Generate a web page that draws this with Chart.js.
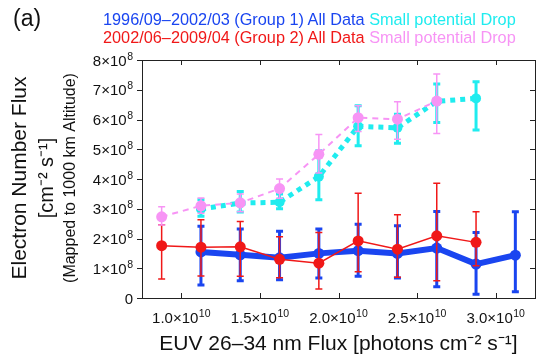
<!DOCTYPE html>
<html>
<head>
<meta charset="utf-8">
<script src="https://cdn.jsdelivr.net/npm/chart.js@4.4.1/dist/chart.umd.min.js"></script>
<style>
  html, body { margin: 0; padding: 0; background: #fff; }
  #wrap { position: relative; width: 542px; height: 360px; font-family: "Liberation Sans", Arial, sans-serif; }
  #wrap canvas { position: absolute; left: 0; top: 0; }
  .txt { position: absolute; white-space: nowrap; line-height: 1; font-size: 16.3px; }
</style>
</head>
<body>
<div id="wrap">
  <canvas id="fluxChart" width="542" height="360"></canvas>
  <div class="txt" style="left:13px;top:7px;font-size:23px;color:#111">(a)</div>
  <div class="txt" style="left:103px;top:11px"><span style="color:#1a45f0">1996/09–2002/03 (Group 1) All Data</span> <span style="color:#1fecef">Small potential Drop</span></div>
  <div class="txt" style="left:103px;top:29px"><span style="color:#f01818">2002/06–2009/04 (Group 2) All Data</span> <span style="color:#f794f5">Small potential Drop</span></div>
</div>
<script>
(function () {
  "use strict";

  // x values: EUV 26-34 nm flux bin centres [photons cm^-2 s^-1]
  var xGroup1 = [1.125e10, 1.375e10, 1.625e10, 1.875e10, 2.125e10, 2.375e10, 2.625e10, 2.875e10, 3.125e10];
  var xGroup2 = [0.875e10, 1.125e10, 1.375e10, 1.625e10, 1.875e10, 2.125e10, 2.375e10, 2.625e10, 2.875e10];
  var xSmall1 = [1.125e10, 1.375e10, 1.625e10, 1.875e10, 2.125e10, 2.375e10, 2.625e10, 2.875e10];
  var xSmall2 = [0.875e10, 1.125e10, 1.375e10, 1.625e10, 1.875e10, 2.125e10, 2.375e10, 2.625e10];

  // electron number flux, units of 1e8 cm^-2 s^-1
  var allData1 = [1.55, 1.45, 1.35, 1.50, 1.59, 1.50, 1.68, 1.14, 1.44];
  var allData1Lo = [0.44, 0.58, 0.61, 0.67, 0.73, 0.67, 0.38, 0.13, 0.21];
  var allData1Hi = [2.41, 2.32, 2.24, 2.32, 2.48, 2.43, 2.91, 2.20, 2.90];

  var allData2 = [1.76, 1.71, 1.72, 1.30, 1.17, 1.92, 1.64, 2.09, 1.87];
  var allData2Lo = [0.64, 0.74, 0.73, 0.68, 0.30, 0.88, 0.70, 0.58, 1.08];
  var allData2Hi = [2.46, 2.63, 2.57, 2.06, 2.20, 3.52, 2.80, 3.86, 2.90];

  var small1 = [2.99, 3.19, 3.22, 4.08, 5.77, 5.72, 6.61, 6.71];
  var small1Lo = [2.75, 2.89, 3.00, 3.30, 5.12, 5.20, 5.90, 5.65];
  var small1Hi = [3.30, 3.58, 3.50, 4.95, 6.46, 6.18, 7.19, 7.27];

  var small2 = [2.73, 3.10, 3.20, 3.68, 4.83, 6.06, 6.01, 6.62];
  var small2Lo = [2.45, 2.85, 2.90, 3.35, 4.20, 5.60, 5.34, 5.53];
  var small2Hi = [3.07, 3.36, 3.50, 4.00, 5.50, 6.46, 6.60, 7.53];

  // tick labels: mantissa part and superscript exponent
  var xTicks = [1.0e10, 1.5e10, 2.0e10, 2.5e10, 3.0e10];
  var xTickBase = ["1.0×10", "1.5×10", "2.0×10", "2.5×10", "3.0×10"];
  var xTickExp = ["10", "10", "10", "10", "10"];
  var yTicks = [0, 1e8, 2e8, 3e8, 4e8, 5e8, 6e8, 7e8, 8e8];
  var yTickBase = ["0", "1×10", "2×10", "3×10", "4×10", "5×10", "6×10", "7×10", "8×10"];
  var yTickExp = ["", "8", "8", "8", "8", "8", "8", "8", "8"];

  var FONT = '"Liberation Sans", Arial, sans-serif';
  var BLUE = "#1a45f0";
  var RED = "#f01818";
  var CYAN = "#1fecef";
  var PINK = "#f794f5";
  var INK = "#111";

  function points(xs, ys) {
    return xs.map(function (x, i) {
      return { x: x, y: ys[i] * 1e8 };
    });
  }

  function scaled(arr) {
    return arr.map(function (v) { return v * 1e8; });
  }

  var errorBars = {
    id: "errorBars",
    beforeDatasetDraw: function (chart, args) {
      var ds = chart.data.datasets[args.index];
      if (!ds.errLo) return;
      var ctx = chart.ctx;
      var xs = chart.scales.x;
      var ys = chart.scales.y;
      ctx.save();
      ctx.strokeStyle = ds.borderColor;
      ctx.lineWidth = ds.errWidth;
      ds.data.forEach(function (p, i) {
        var px = xs.getPixelForValue(p.x);
        var lo = ys.getPixelForValue(ds.errLo[i]);
        var hi = ys.getPixelForValue(ds.errHi[i]);
        var c = ds.capHalf;
        ctx.beginPath();
        ctx.moveTo(px, lo);
        ctx.lineTo(px, hi);
        ctx.moveTo(px - c, lo);
        ctx.lineTo(px + c, lo);
        ctx.moveTo(px - c, hi);
        ctx.lineTo(px + c, hi);
        ctx.stroke();
      });
      ctx.restore();
    }
  };

  // draws "base" with a raised exponent; align is "center" or "right"
  function powerLabel(ctx, base, exp, x, y, supDy, align) {
    ctx.font = "15px " + FONT;
    var wb = ctx.measureText(base).width;
    ctx.font = "10.5px " + FONT;
    var we = exp ? ctx.measureText(exp).width + 0.5 : 0;
    var left = align === "right" ? x - wb - we : x - (wb + we) / 2;
    ctx.textAlign = "left";
    ctx.textBaseline = "alphabetic";
    ctx.font = "15px " + FONT;
    ctx.fillText(base, left, y);
    if (exp) {
      ctx.font = "10.5px " + FONT;
      ctx.fillText(exp, left + wb + 0.5, y + supDy);
    }
  }

  var frame = {
    id: "frame",
    afterDraw: function (chart) {
      var a = chart.chartArea;
      var ctx = chart.ctx;
      var sx = chart.scales.x;
      var sy = chart.scales.y;
      var tl = 5;
      ctx.save();
      ctx.strokeStyle = "#222";
      ctx.lineWidth = 1;
      ctx.strokeRect(Math.round(a.left) + 0.5, Math.round(a.top) + 0.5,
        Math.round(a.right - a.left), Math.round(a.bottom - a.top));
      ctx.beginPath();
      sx.ticks.forEach(function (t) {
        var px = Math.round(sx.getPixelForValue(t.value)) + 0.5;
        ctx.moveTo(px, a.bottom);
        ctx.lineTo(px, a.bottom - tl);
        ctx.moveTo(px, a.top);
        ctx.lineTo(px, a.top + tl);
      });
      sy.ticks.forEach(function (t) {
        var py = Math.round(sy.getPixelForValue(t.value)) + 0.5;
        ctx.moveTo(a.left, py);
        ctx.lineTo(a.left - tl, py);
        ctx.moveTo(a.right, py);
        ctx.lineTo(a.right - tl, py);
      });
      ctx.stroke();

      // tick labels with superscript exponents
      ctx.fillStyle = INK;
      xTicks.forEach(function (v, i) {
        powerLabel(ctx, xTickBase[i], xTickExp[i], sx.getPixelForValue(v), a.bottom + 24.5, -6, "center");
      });
      yTicks.forEach(function (v, i) {
        powerLabel(ctx, yTickBase[i], yTickExp[i], a.left - 9, sy.getPixelForValue(v) + 5.5, -6, "right");
      });

      // y axis title, three lines
      var cy = (a.top + a.bottom) / 2 - 1;
      var lines = [
        { text: "Electron Number Flux", x: 20, size: 21 },
        { text: "[cm⁻² s⁻¹]", x: 47, size: 20 },
        { text: "(Mapped to 1000 km Altitude)", x: 71, size: 16 }
      ];
      ctx.textAlign = "center";
      ctx.textBaseline = "middle";
      lines.forEach(function (l) {
        ctx.save();
        ctx.translate(l.x, cy);
        ctx.rotate(-Math.PI / 2);
        ctx.font = l.size + "px " + FONT;
        ctx.fillText(l.text, 0, 0);
        ctx.restore();
      });
      ctx.restore();
    }
  };

  var ctx = document.getElementById("fluxChart").getContext("2d");
  new Chart(ctx, {
    type: "line",
    data: {
      datasets: [
        {
          label: "Group 2 Small potential Drop",
          data: points(xSmall2, small2),
          errLo: scaled(small2Lo),
          errHi: scaled(small2Hi),
          errWidth: 1.5,
          capHalf: 3.5,
          borderColor: PINK,
          backgroundColor: PINK,
          borderWidth: 2,
          borderDash: [6, 5],
          pointRadius: 5.5,
          pointBorderWidth: 0
        },
        {
          label: "Group 2 All Data",
          data: points(xGroup2, allData2),
          errLo: scaled(allData2Lo),
          errHi: scaled(allData2Hi),
          errWidth: 1.5,
          capHalf: 3.5,
          borderColor: RED,
          backgroundColor: RED,
          borderWidth: 1.5,
          pointRadius: 5.5,
          pointBorderWidth: 0
        },
        {
          label: "Group 1 Small potential Drop",
          data: points(xSmall1, small1),
          errLo: scaled(small1Lo),
          errHi: scaled(small1Hi),
          errWidth: 3,
          capHalf: 3.5,
          borderColor: CYAN,
          backgroundColor: CYAN,
          borderWidth: 5,
          borderDash: [5, 5],
          borderCapStyle: "butt",
          pointRadius: 5,
          pointBorderWidth: 0
        },
        {
          label: "Group 1 All Data",
          data: points(xGroup1, allData1),
          errLo: scaled(allData1Lo),
          errHi: scaled(allData1Hi),
          errWidth: 3,
          capHalf: 3.5,
          borderColor: BLUE,
          backgroundColor: BLUE,
          borderWidth: 6,
          pointRadius: 5.5,
          pointBorderWidth: 0
        }
      ]
    },
    options: {
      responsive: false,
      animation: false,
      layout: { padding: { top: 60, right: 7, left: 0, bottom: 0 } },
      plugins: {
        legend: { display: false },
        tooltip: { enabled: false }
      },
      scales: {
        x: {
          type: "linear",
          min: 0.75e10,
          max: 3.25e10,
          grid: { display: false },
          border: { display: false },
          afterBuildTicks: function (s) {
            s.ticks = xTicks.map(function (v) { return { value: v }; });
          },
          afterFit: function (s) { s.height = 62; },
          ticks: { display: false },
          title: {
            display: true,
            text: "EUV 26–34 nm Flux [photons cm⁻² s⁻¹]",
            color: INK,
            font: { size: 21, family: FONT },
            padding: { top: 0, bottom: 3 }
          }
        },
        y: {
          type: "linear",
          min: 0,
          max: 8e8,
          grid: { display: false },
          border: { display: false },
          afterBuildTicks: function (s) {
            s.ticks = yTicks.map(function (v) { return { value: v }; });
          },
          afterFit: function (s) { s.width = 142; },
          ticks: { display: false }
        }
      }
    },
    plugins: [errorBars, frame]
  });
})();
</script>
</body>
</html>
